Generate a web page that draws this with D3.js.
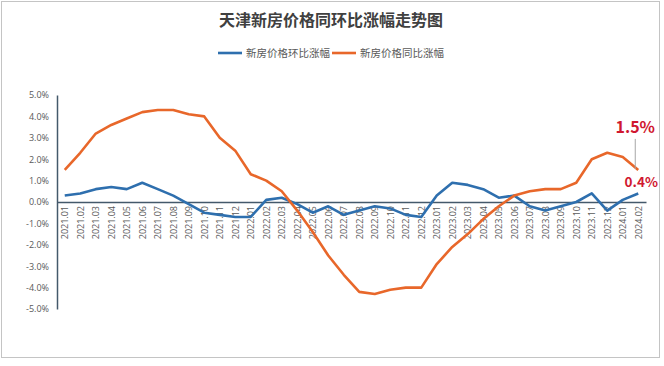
<!DOCTYPE html>
<html lang="zh">
<head>
  <meta charset="UTF-8">
  <title>天津新房价格同环比涨幅走势图</title>
  <script src="https://d3js.org/d3.v7.min.js"></script>
  <style>
    body { margin: 0; background: #fff; }
    text { font-family: "Noto Sans CJK SC", "Noto Sans", sans-serif; }
    .line { fill: none; stroke-width: 2.6; stroke-linejoin: round; }
  </style>
</head>
<body>
  <svg width="664" height="366"></svg>
  <script>
    // months on the x axis
    const months = ["2021.01","2021.02","2021.03","2021.04","2021.05","2021.06","2021.07","2021.08","2021.09","2021.10","2021.11","2021.12",
      "2022.01","2022.02","2022.03","2022.04","2022.05","2022.06","2022.07","2022.08","2022.09","2022.10","2022.11","2022.12",
      "2023.01","2023.02","2023.03","2023.04","2023.05","2023.06","2023.07","2023.08","2023.09","2023.10","2023.11","2023.12",
      "2024.01","2024.02"];
    // 环比 (month on month), %
    const momValues = [0.3,0.4,0.6,0.7,0.6,0.9,0.6,0.3,-0.1,-0.5,-0.6,-0.7,
      -0.7,0.1,0.2,-0.1,-0.5,-0.2,-0.6,-0.4,-0.2,-0.3,-0.6,-0.7,
      0.3,0.9,0.8,0.6,0.2,0.3,-0.2,-0.4,-0.2,0.0,0.4,-0.4,
      0.1,0.4];
    // 同比 (year on year), %
    const yoyValues = [1.5,2.3,3.2,3.6,3.9,4.2,4.3,4.3,4.1,4.0,3.0,2.4,
      1.3,1.0,0.5,-0.4,-1.4,-2.5,-3.4,-4.2,-4.3,-4.1,-4.0,-4.0,
      -2.9,-2.1,-1.5,-0.8,-0.2,0.3,0.5,0.6,0.6,0.9,2.0,2.3,
      2.1,1.5];
    const yTicks = [5,4,3,2,1,0,-1,-2,-3,-4,-5];
    const seriesNames = ["新房价格环比涨幅", "新房价格同比涨幅"];
    const colors = ["#2e6fae", "#e8672a"];

    const svg = d3.select("svg");

    // outer frame
    svg.append("rect")
      .attr("x", 1.5).attr("y", 1.5).attr("width", 658).attr("height", 356)
      .attr("fill", "#fff").attr("stroke", "#c4c4c4");

    svg.append("text")
      .attr("x", 331).attr("y", 26)
      .attr("text-anchor", "middle")
      .attr("font-size", 16).attr("font-weight", "bold")
      .attr("fill", "#404040")
      .text("天津新房价格同环比涨幅走势图");

    // legend
    const legend = svg.append("g").attr("transform", "translate(218,53)");
    const legendX = [0, 114];
    seriesNames.forEach((name, i) => {
      const lg = legend.append("g").attr("transform", `translate(${legendX[i]},0)`);
      lg.append("line").attr("x1", 0).attr("x2", 24).attr("y1", 0).attr("y2", 0)
        .attr("stroke", colors[i]).attr("stroke-width", 2.6);
      lg.append("text").attr("x", 28).attr("y", 0).attr("dy", "0.35em")
        .attr("font-size", 10.5).attr("fill", "#595959").text(name);
    });

    const x = d3.scalePoint().domain(months).range([57, 646]).padding(0.5);
    const y = d3.scaleLinear().domain([-5, 5]).range([309, 95]);

    // y axis
    const yAxis = svg.append("g")
      .attr("transform", "translate(57,0)")
      .call(d3.axisLeft(y).tickValues(yTicks).tickSize(0).tickPadding(8)
        .tickFormat(d => d.toFixed(1) + "%"));
    yAxis.select(".domain").attr("stroke", "#44596b").attr("stroke-width", 1.5);
    yAxis.selectAll("text").attr("font-size", 9).attr("fill", "#595959")
      .style("font-family", "'Open Sans', 'Noto Sans', sans-serif");

    // x axis on the zero line
    const xAxis = svg.append("g")
      .attr("transform", `translate(0,${y(0)})`)
      .call(d3.axisBottom(x).tickSize(0));
    xAxis.select(".domain").attr("stroke", "#44596b").attr("stroke-width", 1.5);
    xAxis.selectAll("text")
      .attr("transform", "rotate(-90)")
      .attr("x", -4).attr("y", 0).attr("dy", "0.35em")
      .attr("text-anchor", "end")
      .attr("font-size", 9).attr("fill", "#595959")
      .style("font-family", "'Open Sans', 'Noto Sans', sans-serif");

    const line = d3.line()
      .x((d, i) => x(months[i]))
      .y(d => y(d));

    [momValues, yoyValues].forEach((vals, i) => {
      svg.append("path")
        .attr("class", "line")
        .attr("stroke", colors[i])
        .attr("d", line(vals));
    });

    // end labels
    const last = months[months.length - 1];
    const yoyLast = yoyValues[yoyValues.length - 1];
    const momLast = momValues[momValues.length - 1];
    svg.append("line")
      .attr("x1", x(last) - 3).attr("x2", x(last) - 3)
      .attr("y1", y(yoyLast) - 31).attr("y2", y(yoyLast) - 1)
      .attr("stroke", "#a6a6a6").attr("stroke-width", 1);
    svg.append("text")
      .attr("x", x(last) - 3).attr("y", y(yoyLast) - 37)
      .attr("text-anchor", "middle")
      .attr("font-size", 16).attr("font-weight", "bold").attr("fill", "#d01830")
      .text(yoyLast.toFixed(1) + "%");
    svg.append("text")
      .attr("x", x(last) + 3).attr("y", y(momLast) - 6)
      .attr("text-anchor", "middle")
      .attr("font-size", 13.5).attr("font-weight", "bold").attr("fill", "#d01830")
      .text(momLast.toFixed(1) + "%");
  </script>
</body>
</html>
